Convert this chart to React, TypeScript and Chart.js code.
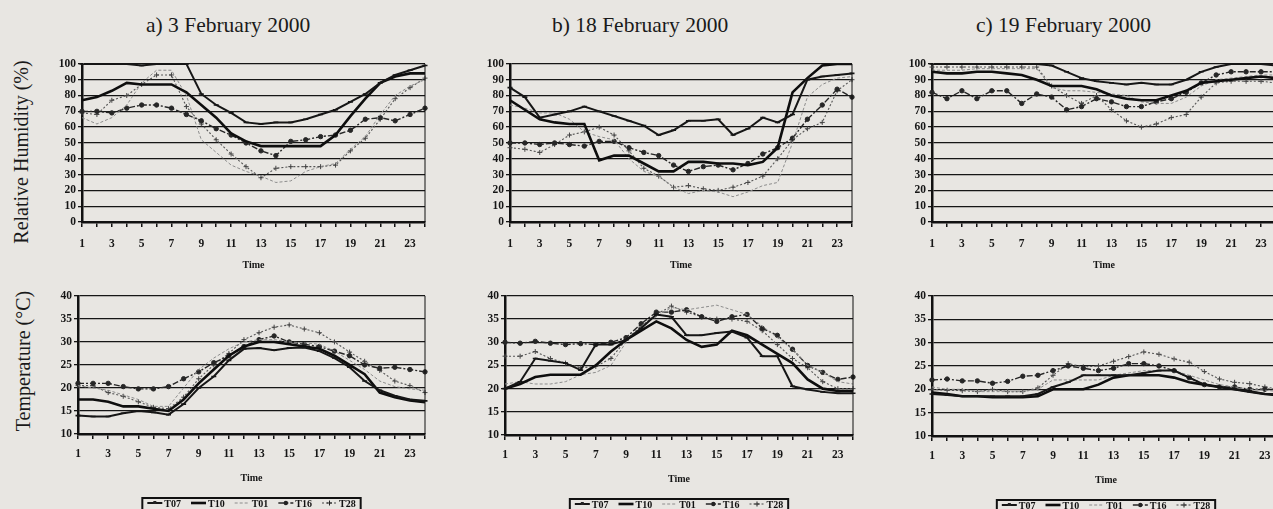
import React, { useEffect, useRef } from "react";
import { Chart, registerables } from "chart.js";

Chart.register(...registerables);

// ---------- categories / labels ----------
const hours = ["1","2","3","4","5","6","7","8","9","10","11","12","13","14","15","16","17","18","19","20","21","22","23","24"];
const seriesNames = ["T07", "T10", "T01", "T16", "T28"];
const panelTitles = ["a) 3 February 2000", "b) 18 February 2000", "c) 19 February 2000"];
const rhAxisTitle = "Relative Humidity (%)";
const tAxisTitle = "Temperature (°C)";
const xAxisTitle = "Time";

// ---------- Relative humidity (%) ----------
const rhA_T07 = [100,100,100,100,99,100,100,100,81,74,69,63,62,63,63,65,68,71,76,81,88,93,96,99];
const rhA_T10 = [77,79,83,88,87,87,87,82,74,66,56,51,48,48,48,48,48,55,67,78,88,92,94,94];
const rhA_T01 = [66,62,66,74,88,96,96,80,52,44,36,32,29,25,26,32,35,37,46,54,68,80,86,90];
const rhA_T16 = [70,70,69,72,74,74,72,68,64,59,55,50,45,42,51,52,54,55,58,65,66,64,68,72];
const rhA_T28 = [69,68,77,80,87,93,93,73,62,52,43,35,28,34,35,35,35,36,45,53,65,78,85,91];

const rhB_T07 = [85,79,66,68,70,73,70,67,64,61,55,58,64,64,65,55,59,66,63,68,90,92,93,94];
const rhB_T10 = [77,71,65,63,62,62,39,42,42,37,32,32,38,38,37,37,36,38,47,82,91,99,100,100];
const rhB_T01 = [74,72,69,69,65,57,54,52,40,32,29,22,18,20,19,16,19,23,25,50,79,87,91,92];
const rhB_T16 = [50,50,49,50,49,48,51,51,47,44,42,36,32,35,36,33,37,43,47,53,65,74,84,79];
const rhB_T28 = [47,46,44,49,55,57,60,55,45,34,29,22,23,21,20,22,25,29,40,52,59,63,83,90];

const rhC_T07 = [100,100,100,100,100,100,100,100,99,95,91,89,88,87,88,87,87,90,95,98,100,100,100,99];
const rhC_T10 = [95,94,94,95,95,94,93,90,86,86,86,84,80,78,77,77,80,83,88,89,90,91,92,91];
const rhC_T01 = [96,96,96,97,97,97,97,97,85,83,83,82,81,80,76,75,75,79,86,90,91,92,93,93];
const rhC_T16 = [82,78,83,78,83,83,75,81,79,71,73,78,76,73,73,76,78,82,88,93,95,95,95,95];
const rhC_T28 = [98,98,98,98,98,98,98,98,86,80,75,80,71,64,60,62,66,68,79,88,89,89,89,88];

// ---------- Temperature (°C) ----------
const tA_T07 = [14,13.8,13.8,14.5,15,14.7,14.2,16.5,20,22.5,26,28.5,28.7,28.2,28.7,28.8,28,26.5,24.5,21.5,19.5,18.3,17.5,17.2];
const tA_T10 = [17.5,17.5,17,16,16,15.5,15,17.5,21,24,27,29,30,30,29.5,29,28.5,27,25,23,19,18,17.3,16.9];
const tA_T01 = [20.5,20,19.5,18.5,17.5,16,16,20,24,26.5,28.5,30,30.5,30.5,30,29.8,29.5,28,26,24,21.5,20.3,19.8,19.5];
const tA_T16 = [21,21,21,20.3,19.8,19.8,20.3,22,23.5,25.5,27,29,30.5,31.3,30,29.5,29,28,27,25,24.3,24.5,24,23.5];
const tA_T28 = [20.5,20.5,19,18.2,17,15.8,15.5,18,22,25,27.5,30.5,32,33.2,33.7,32.8,32,30,27.8,25.8,23.8,21.5,20.5,19];

const tB_T07 = [20,21.5,26.5,26,25.5,24,29.5,29.5,30.5,33,36,35.5,31.5,31.5,32,32.3,31,27,27,20.5,19.8,19.3,19,19];
const tB_T10 = [20,21,22.5,23,23,23,25,28,30.5,32.5,34.5,33,30.5,29,29.5,32.5,31.5,29.5,27.5,25.5,22,20,19.5,19.5];
const tB_T01 = [21,21.5,21,21,21.5,23,23.5,25,30,33.5,35.5,37.5,37,37.5,38,37,36,33.5,31,28.5,25,23.5,21.5,21];
const tB_T16 = [30,29.8,30.2,29.8,29.5,29.7,29.5,30,31,34,36.5,36.5,37,35.5,34.5,35.5,36,33,31.5,28.5,25,23.5,22,22.5];
const tB_T28 = [27,27,28,26.5,25.5,24.5,24.8,26.5,30.5,33.5,36,37.8,36.5,35.5,35,35,34.5,32.5,29.5,26.5,24.5,21.5,20,20];

const tC_T07 = [19,18.8,18.5,18.5,18.5,18.5,18.5,19,20.5,21.5,23,23,23,23,23.5,24,24,22.5,21,20.5,20,19.5,19,19];
const tC_T10 = [19.3,19,18.5,18.5,18.3,18.3,18.3,18.5,20,20,20,21,22.5,23,23,23,22.5,21.5,21,20.5,20,19.5,19,18.7];
const tC_T01 = [20.5,20,20,19.5,19.5,19.5,19.5,20,22,22,22,22,23,23.5,24,24,24,23,22,21,20.5,20,19.8,19.5];
const tC_T16 = [22,22.2,21.8,21.8,21.3,21.7,22.8,23,24,25,24.5,24,24.5,25.5,25.5,25,24,22.5,21,20.5,20.5,20,20,20];
const tC_T28 = [20,19.8,19.7,19.5,20,19.5,19.5,20.3,23,25.5,24.8,25,26,27,28,27.5,26.5,25.8,23.8,22.2,21.5,21.2,20.5,20];

// ---------- styles ----------
const FONT = '"Liberation Serif", "Times New Roman", serif';
const PAPER = "#e8e6e2";

const STYLES: any[] = [
  { borderColor: "#161616", borderWidth: 2, borderDash: [], pointStyle: "line", pointRadius: 2.5, pointBorderWidth: 1.6, pointBorderColor: "#161616", pointBackgroundColor: "#161616" },
  { borderColor: "#0e0e0e", borderWidth: 2.6, borderDash: [], pointRadius: 0 },
  { borderColor: "#8c8c8c", borderWidth: 1, borderDash: [3, 2], pointRadius: 0 },
  { borderColor: "#262626", borderWidth: 1.4, borderDash: [6, 2, 2, 2], pointStyle: "circle", pointRadius: 2.2, pointBorderWidth: 1, pointBorderColor: "#262626", pointBackgroundColor: "#262626" },
  { borderColor: "#555555", borderWidth: 1.1, borderDash: [2, 2], pointStyle: "cross", pointRadius: 2.5, pointBorderWidth: 1, pointBorderColor: "#444444", pointBackgroundColor: "#444444" },
];

// ---------- plugins ----------
const frameRight = {
  id: "frameRight",
  afterDatasetsDraw(chart: any) {
    const { ctx, chartArea } = chart;
    ctx.save();
    ctx.strokeStyle = "#111";
    ctx.lineWidth = 1;
    ctx.beginPath();
    ctx.moveTo(chartArea.right, chartArea.top);
    ctx.lineTo(chartArea.right, chartArea.bottom);
    ctx.stroke();
    ctx.restore();
  },
};

const boxLegend = {
  id: "boxLegend",
  afterDraw(chart: any, _a: any, opts: any) {
    if (!opts || !opts.show) return;
    const { ctx, chartArea } = chart;
    const cy = chartArea.bottom + opts.offset;
    ctx.save();
    ctx.font = `bold 10px ${FONT}`;
    ctx.textBaseline = "middle";
    const sw = 15, g = 2, sp = 10;
    const items = chart.data.datasets.map((ds: any) => ({ ds, tw: ctx.measureText(ds.label).width }));
    const total = items.reduce((s: number, it: any) => s + sw + g + it.tw, 0) + sp * (items.length - 1);
    let x = (chartArea.left + chartArea.right) / 2 - total / 2;
    ctx.lineWidth = 2;
    ctx.strokeStyle = "#111";
    ctx.strokeRect(x - 5, cy - 5, total + 10, 20);
    for (const it of items) {
      const ds = it.ds;
      ctx.setLineDash(ds.borderDash || []);
      ctx.lineWidth = ds.borderWidth;
      ctx.strokeStyle = ds.borderColor;
      ctx.beginPath();
      ctx.moveTo(x, cy);
      ctx.lineTo(x + sw, cy);
      ctx.stroke();
      ctx.setLineDash([]);
      const mx = x + sw / 2;
      ctx.fillStyle = "#222";
      ctx.strokeStyle = "#222";
      ctx.lineWidth = 1;
      if (ds.pointStyle === "circle") {
        ctx.beginPath();
        ctx.arc(mx, cy, 2.2, 0, Math.PI * 2);
        ctx.fill();
      } else if (ds.pointStyle === "cross") {
        ctx.beginPath();
        ctx.moveTo(mx - 2.5, cy); ctx.lineTo(mx + 2.5, cy);
        ctx.moveTo(mx, cy - 2.5); ctx.lineTo(mx, cy + 2.5);
        ctx.stroke();
      } else if (ds.pointStyle === "line") {
        ctx.fillRect(mx - 1.5, cy - 2, 3, 3);
      }
      ctx.fillStyle = "#111";
      ctx.fillText(ds.label, x + sw + g, cy + 1);
      x += sw + g + it.tw + sp;
    }
    ctx.restore();
  },
};

type PanelProps = {
  left: number; top: number; right: number; bottom: number;
  yMin: number; yMax: number; yStep: number;
  data: number[][];
  timeGap: number; labelPad: number; legend: boolean;
};

function Panel(p: PanelProps) {
  const ref = useRef<HTMLCanvasElement | null>(null);
  const YW = 34, PR = 34, PT = 8;
  const XH = p.timeGap + 6;
  const PB = p.legend ? 32 : 4;
  const W = p.right - p.left + YW + PR;
  const H = p.bottom - p.top + PT + XH + PB;

  useEffect(() => {
    if (!ref.current) return;
    const tickFont = { family: FONT, weight: "bold" as const, size: 11.5 };
    const chart = new Chart(ref.current, {
      type: "line",
      data: {
        labels: hours,
        datasets: p.data.map((d, i) => ({
          label: seriesNames[i],
          data: d,
          fill: false,
          tension: 0,
          ...STYLES[i],
        })),
      },
      options: {
        responsive: false,
        animation: false,
        layout: { padding: { left: 0, right: PR, top: PT, bottom: PB } },
        plugins: {
          legend: { display: false },
          tooltip: { enabled: false },
          boxLegend: { show: p.legend, offset: 69 },
        } as any,
        scales: {
          x: {
            type: "category",
            offset: false,
            grid: { drawOnChartArea: false, drawTicks: true, tickLength: 5, color: "#111", lineWidth: 1.5 },
            border: { display: true, color: "#111", width: 2.5 },
            ticks: {
              autoSkip: false,
              maxRotation: 0,
              padding: p.labelPad,
              color: "#161616",
              font: tickFont,
              callback: function (this: any, val: any, idx: number) {
                return idx % 2 === 0 ? this.getLabelForValue(val) : "";
              },
            },
            title: { display: true, text: xAxisTitle, color: "#161616", font: { family: FONT, weight: "bold", size: 10 }, padding: 0 },
            afterFit: (s: any) => { s.height = XH; },
          },
          y: {
            min: p.yMin,
            max: p.yMax,
            grid: { color: "#161616", lineWidth: 1.3, tickLength: 4, drawTicks: true },
            border: { display: true, color: "#111", width: 2.5 },
            ticks: { stepSize: p.yStep, autoSkip: false, padding: 2, color: "#161616", font: tickFont },
            afterFit: (s: any) => { s.width = YW; },
          },
        },
      },
      plugins: [frameRight, boxLegend],
    });
    return () => chart.destroy();
  }, []);

  return (
    <canvas
      ref={ref}
      width={W}
      height={H}
      style={{ position: "absolute", left: p.left - YW, top: p.top - PT, width: W, height: H }}
    />
  );
}

function VTitle({ text, cx, cy }: { text: string; cx: number; cy: number }) {
  return (
    <div style={{ position: "absolute", left: cx, top: cy, width: 0, height: 0 }}>
      <div
        style={{
          position: "absolute",
          left: 0,
          top: 0,
          transform: "translate(-50%, -50%) rotate(-90deg)",
          whiteSpace: "nowrap",
          fontSize: 20,
          lineHeight: "20px",
          color: "#1a1a1a",
          fontFamily: FONT,
        }}
      >
        {text}
      </div>
    </div>
  );
}

const titleLefts = [146, 552, 976];

export default function App() {
  return (
    <div
      style={{
        position: "fixed",
        left: 0,
        top: 0,
        width: 1273,
        height: 509,
        overflow: "hidden",
        background: PAPER,
        fontFamily: FONT,
      }}
    >
      {panelTitles.map((t, i) => (
        <div
          key={t}
          style={{ position: "absolute", left: titleLefts[i], top: 15, fontSize: 21.5, lineHeight: "21px", color: "#1a1a1a", whiteSpace: "nowrap" }}
        >
          {t}
        </div>
      ))}
      <VTitle text={rhAxisTitle} cx={21} cy={152} />
      <VTitle text={tAxisTitle} cx={23} cy={361} />

      <Panel left={82} top={63} right={425} bottom={222} yMin={0} yMax={100} yStep={10}
        data={[rhA_T07, rhA_T10, rhA_T01, rhA_T16, rhA_T28]} timeGap={43} labelPad={10} legend={false} />
      <Panel left={510} top={63} right={852} bottom={222} yMin={0} yMax={100} yStep={10}
        data={[rhB_T07, rhB_T10, rhB_T01, rhB_T16, rhB_T28]} timeGap={43} labelPad={10} legend={false} />
      <Panel left={932} top={63} right={1276} bottom={222} yMin={0} yMax={100} yStep={10}
        data={[rhC_T07, rhC_T10, rhC_T01, rhC_T16, rhC_T28]} timeGap={43} labelPad={10} legend={false} />

      <Panel left={78} top={295} right={425} bottom={434} yMin={10} yMax={40} yStep={5}
        data={[tA_T07, tA_T10, tA_T01, tA_T16, tA_T28]} timeGap={44} labelPad={8} legend={true} />
      <Panel left={505} top={295} right={853} bottom={435} yMin={10} yMax={40} yStep={5}
        data={[tB_T07, tB_T10, tB_T01, tB_T16, tB_T28]} timeGap={44} labelPad={8} legend={true} />
      <Panel left={932} top={295} right={1280} bottom={436} yMin={10} yMax={40} yStep={5}
        data={[tC_T07, tC_T10, tC_T01, tC_T16, tC_T28]} timeGap={44} labelPad={8} legend={true} />
    </div>
  );
}
